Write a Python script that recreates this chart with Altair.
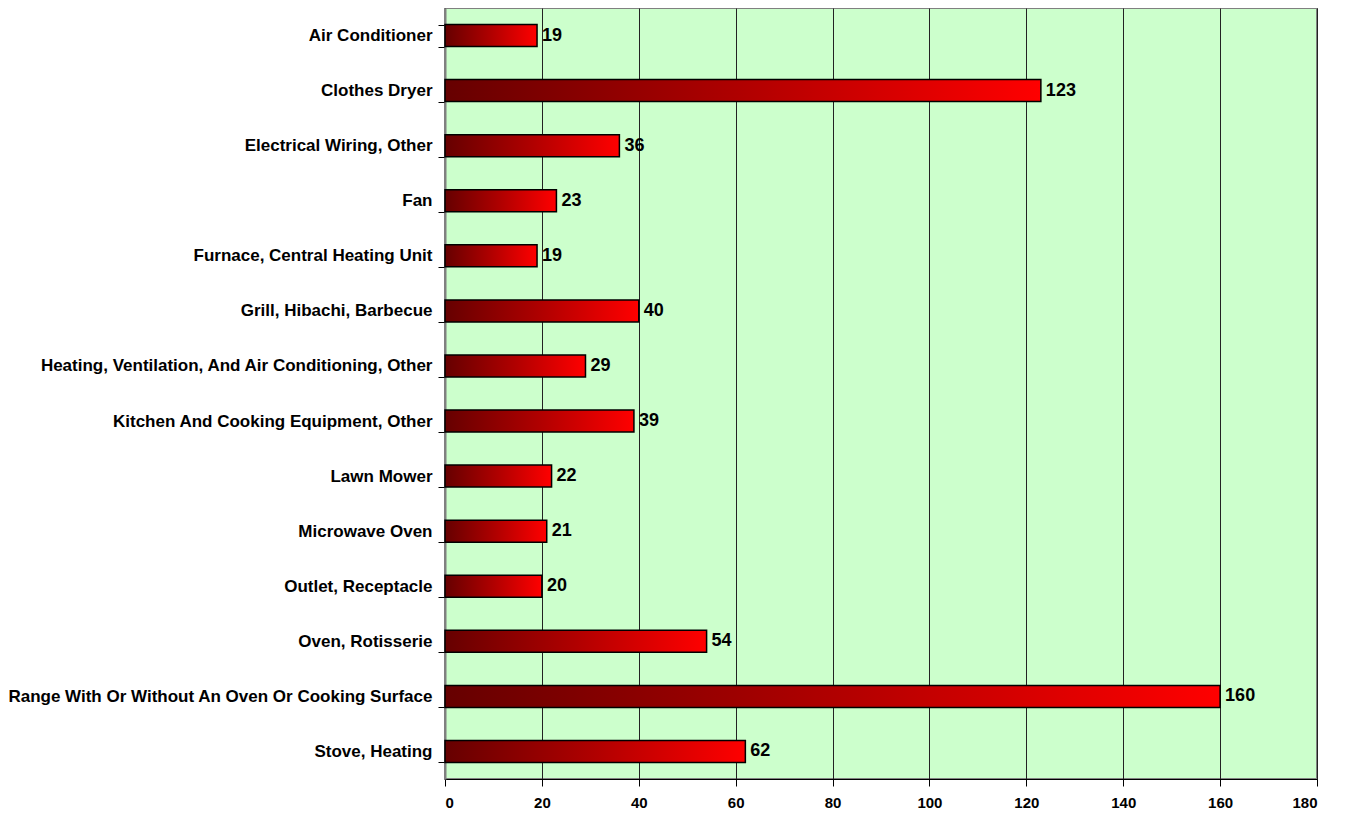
import altair as alt
import pandas as pd

categories = [
    "Air Conditioner",
    "Clothes Dryer",
    "Electrical Wiring, Other",
    "Fan",
    "Furnace, Central Heating Unit",
    "Grill, Hibachi, Barbecue",
    "Heating, Ventilation, And Air Conditioning, Other",
    "Kitchen And Cooking Equipment, Other",
    "Lawn Mower",
    "Microwave Oven",
    "Outlet, Receptacle",
    "Oven, Rotisserie",
    "Range With Or Without An Oven Or Cooking Surface",
    "Stove, Heating",
]
values = [19, 123, 36, 23, 19, 40, 29, 39, 22, 21, 20, 54, 160, 62]
x_ticks = [0, 20, 40, 60, 80, 100, 120, 140, 160, 180]

df = pd.DataFrame({"category": categories, "value": values})

FONT = "Liberation Sans"

y_enc = alt.Y(
    "category:N",
    sort=categories,
    title=None,
    scale=alt.Scale(paddingInner=0.6, paddingOuter=0.3),
    axis=alt.Axis(
        labelFont=FONT,
        labelFontSize=17,
        labelFontWeight="bold",
        labelColor="black",
        labelLimit=600,
        labelPadding=6,
        tickBand="extent",
        tickSize=7,
        tickColor="black",
        domainColor="#808080",
        domainWidth=2,
        grid=False,
    ),
)
x_enc = alt.X(
    "value:Q",
    title=None,
    scale=alt.Scale(domain=[0, 180], nice=False),
    axis=alt.Axis(
        values=x_ticks,
        labelFont=FONT,
        labelFontSize=15,
        labelFontWeight="bold",
        labelColor="black",
        labelPadding=9,
        tickSize=7,
        tickColor="black",
        domainColor="black",
        grid=True,
        gridColor="#222222",
        gridWidth=1,
    ),
)

bars = alt.Chart(df).mark_bar(
    color=alt.LinearGradient(
        gradient="linear",
        stops=[
            alt.GradientStop(color="#660000", offset=0),
            alt.GradientStop(color="#b00000", offset=0.5),
            alt.GradientStop(color="#ff0000", offset=1),
        ],
        x1=0, x2=1, y1=0, y2=0,
    ),
    stroke="black",
    strokeWidth=1.5,
).encode(x=x_enc, y=y_enc)

labels = alt.Chart(df).mark_text(
    align="left",
    baseline="middle",
    dx=5,
    font=FONT,
    fontSize=18,
    fontWeight="bold",
    color="black",
).encode(x=alt.X("value:Q"), y=alt.Y("category:N", sort=categories), text="value:Q")

chart = (
    alt.layer(bars, labels)
    .properties(
        width=872,
        height=771,
        autosize=alt.AutoSizeParams(type="none"),
        padding={"left": 437, "top": 0, "right": 20, "bottom": 33},
    )
    .configure_view(fill="#ccffcc", stroke="#808080", strokeWidth=2)
)

chart.save("out.html", embed_options={"renderer": "svg", "actions": False})
